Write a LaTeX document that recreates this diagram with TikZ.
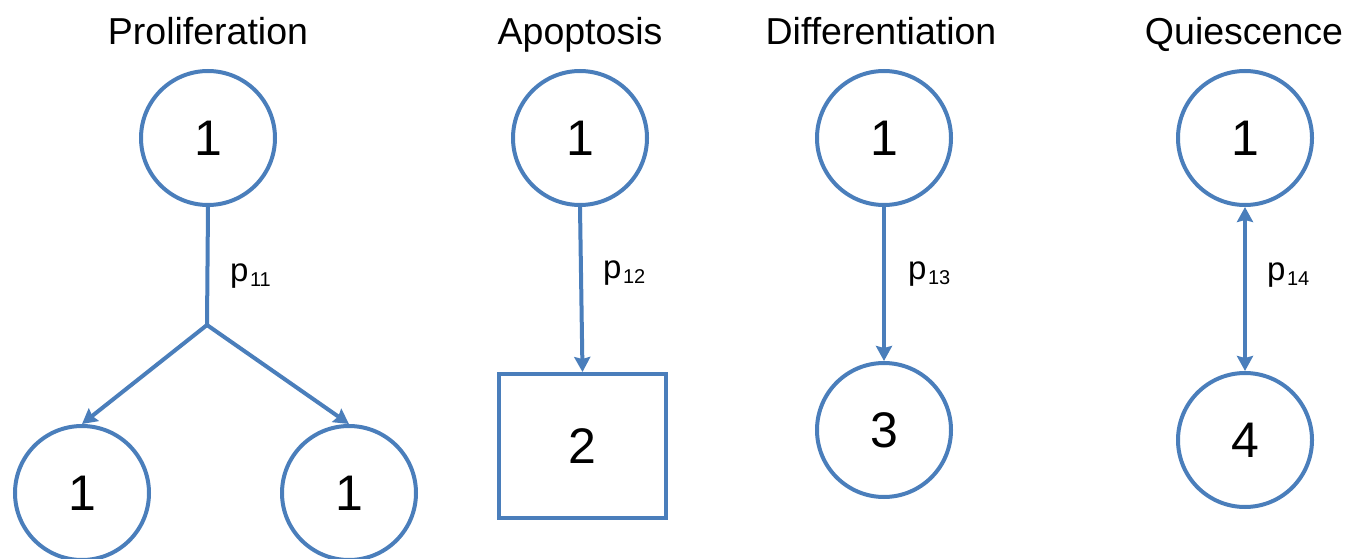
\documentclass[tikz,border=0pt]{standalone}
\usepackage{fontspec}
\setmainfont{Liberation Sans}
\usetikzlibrary{arrows.meta}
\definecolor{cellblue}{RGB}{74,126,187}
\tikzset{
  cell/.style={circle,draw=cellblue,line width=4pt,minimum size=134pt,inner sep=0pt,font=\fontsize{50}{50}\selectfont},
  deadbox/.style={rectangle,draw=cellblue,line width=4pt,minimum width=167pt,minimum height=144pt,inner sep=0pt,font=\fontsize{50}{50}\selectfont},
  title/.style={anchor=base,inner sep=0pt,font=\fontsize{37.5}{37.5}\selectfont},
  plabel/.style={anchor=base west,inner sep=0pt,font=\fontsize{33}{33}\selectfont},
  link/.style={draw=cellblue,line width=4pt},
  arr/.style={link,-{Stealth[length=15pt,width=16pt,inset=2pt]}},
  darr/.style={link,{Stealth[length=15pt,width=16pt,inset=2pt]}-{Stealth[length=15pt,width=16pt,inset=2pt]}}
}
\newcommand{\psub}[1]{p\hspace{1.5pt}\raisebox{-5pt}{\fontsize{20}{20}\selectfont #1}}
\begin{document}
\begin{tikzpicture}[x=1pt,y=-1pt]
\useasboundingbox (0,0) rectangle (1350,559);
% titles
\node[title] (t1) at (208,45) {Proliferation};
\node[title] (t2) at (580,45) {Apoptosis};
\node[title] (t3) at (881,45) {Differentiation};
\node[title] (t4) at (1244,45) {Quiescence};
% Proliferation
\node[cell] (p1) at (208,138) {1};
\coordinate (pj) at (207,325);
\node[cell] (pl) at (82,493) {1};
\node[cell] (pr) at (349,493) {1};
\draw[link] (p1.south) -- (pj);
\draw[arr] (pj) -- (pl.north);
\draw[arr] (pj) -- (pr.north);
\node[plabel] (l11) at (230,281) {\psub{11}};
% Apoptosis
\node[cell] (a1) at (580,138) {1};
\node[deadbox] (a2) at (582.5,446) {2};
\draw[arr] (a1.south) -- (a2.north);
\node[plabel] (l12) at (603,278) {\psub{12}};
% Differentiation
\node[cell] (d1) at (884,138) {1};
\node[cell] (d3) at (884,430) {3};
\draw[arr] (d1.south) -- (d3.north);
\node[plabel] (l13) at (908,279) {\psub{13}};
% Quiescence
\node[cell] (q1) at (1245,138) {1};
\node[cell] (q4) at (1245,440) {4};
\draw[darr] (q1.south) -- (q4.north);
\node[plabel] (l14) at (1267,280) {\psub{14}};
\end{tikzpicture}
\end{document}
